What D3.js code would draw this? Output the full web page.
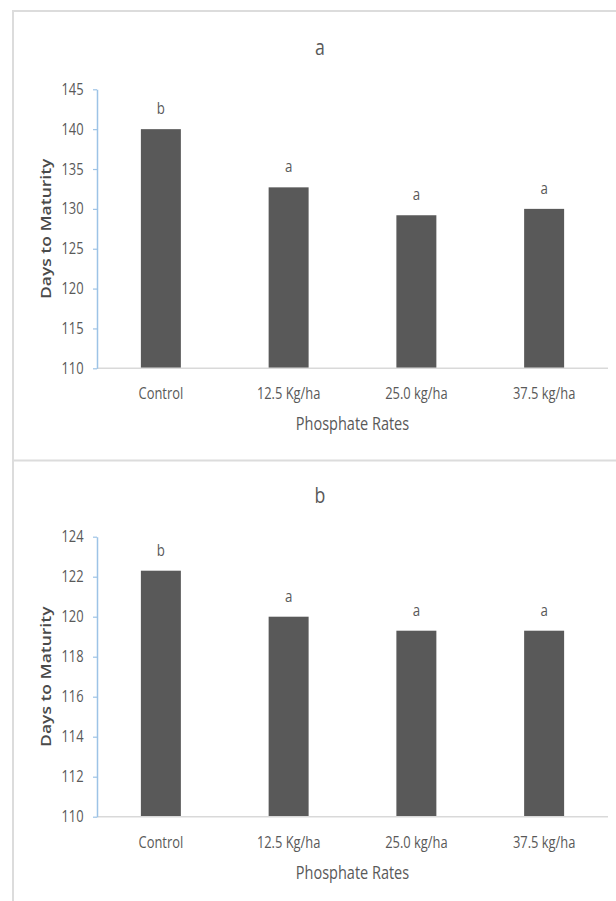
<!DOCTYPE html>
<html>
<head>
<meta charset="utf-8">
<script src="https://cdn.jsdelivr.net/npm/d3@7"></script>
<style>
  html, body { margin: 0; padding: 0; background: #fff; }
  svg { display: block; }
</style>
</head>
<body>
<div id="chart"></div>
<script>
// ---- data ----
const categories = ["Control", "12.5 Kg/ha", "25.0 kg/ha", "37.5 kg/ha"];
const panelTitles = ["a", "b"];
const valuesA = [140.0, 132.7, 129.2, 130.0];
const valuesB = [122.3, 120.0, 119.3, 119.3];
const lettersA = ["b", "a", "a", "a"];
const lettersB = ["b", "a", "a", "a"];
const ticksA = [110, 115, 120, 125, 130, 135, 140, 145];
const ticksB = [110, 112, 114, 116, 118, 120, 122, 124];
const xTitle = "Phosphate Rates";
const yTitle = "Days to Maturity";

// ---- layout ----
const W = 616, H = 901;
const SX = 0.806;            // horizontal squeeze of the source text
const FONT = "'Open Sans', 'Noto Sans', sans-serif";
const TXT = "#595959";
const BAR = "#595959";
const FRAME = "#dcdcdc";

const svg = d3.select("#chart").append("svg")
  .attr("width", W).attr("height", H)
  .style("background", "#fff");

// frame lines
svg.append("line").attr("x1", 13).attr("x2", W).attr("y1", 11).attr("y2", 11)
  .attr("stroke", FRAME).attr("stroke-width", 2);
svg.append("line").attr("x1", 13).attr("x2", 13).attr("y1", 10).attr("y2", H)
  .attr("stroke", FRAME).attr("stroke-width", 2);
svg.append("line").attr("x1", 13).attr("x2", W).attr("y1", 460.5).attr("y2", 460.5)
  .attr("stroke", FRAME).attr("stroke-width", 2);

function sText(g, x, y, str, size, opts = {}) {
  return g.append("text")
    .attr("transform", `translate(${x},${y}) scale(${SX},1)`)
    .attr("text-anchor", opts.anchor || "middle")
    .attr("font-family", FONT)
    .attr("font-size", size)
    .attr("font-weight", opts.weight || 400)
    .attr("fill", opts.fill || TXT)
    .text(str);
}

function drawPanel(cfg) {
  const g = svg.append("g");
  const x = d3.scaleBand().domain(categories).range([97, 608])
    .paddingInner(0.687).paddingOuter(0.3435);
  const y = d3.scaleLinear().domain(cfg.domain).range([cfg.yBottom, cfg.yTop]);

  // bars
  g.selectAll("rect.bar").data(cfg.values).join("rect")
    .attr("class", "bar")
    .attr("x", (d, i) => x(categories[i]))
    .attr("width", x.bandwidth())
    .attr("y", d => y(d))
    .attr("height", d => y(cfg.domain[0]) - y(d))
    .attr("fill", BAR);

  // x axis line
  g.append("line").attr("x1", 97).attr("x2", 608)
    .attr("y1", y(cfg.domain[0])).attr("y2", y(cfg.domain[0]))
    .attr("stroke", "#d9d9d9").attr("stroke-width", 1.5);

  // y axis
  const ya = g.append("g").attr("transform", "translate(97,0)")
    .call(d3.axisLeft(y).tickValues(cfg.ticks).tickSize(4).tickSizeOuter(0).tickPadding(9.5));
  ya.select(".domain").attr("stroke", "#9dc3e6").attr("stroke-width", 1.5);
  ya.selectAll(".tick line").attr("stroke", "#9dc3e6").attr("stroke-width", 1.2);
  ya.selectAll(".tick text").each(function () {
    const t = d3.select(this);
    const tx = +t.attr("x");
    t.attr("x", 0).attr("transform", `translate(${tx},0) scale(${SX},1)`)
      .attr("font-family", FONT).attr("font-size", 16).attr("fill", TXT);
  });

  // x tick labels
  categories.forEach((c, i) => {
    sText(g, x(c) + x.bandwidth() / 2, y(cfg.domain[0]) + 31, c, 16);
  });

  // significance letters
  cfg.values.forEach((v, i) => {
    sText(g, x(categories[i]) + x.bandwidth() / 2, y(v) - 15, cfg.letters[i], 16.5);
  });

  // chart title
  sText(g, 320, cfg.yTop - 34, cfg.title, 22);

  // x axis title
  sText(g, 352.5, y(cfg.domain[0]) + 62, xTitle, 18);

  // y axis title (rotated)
  g.append("text")
    .attr("transform", `translate(50.5,${(cfg.yTop + cfg.yBottom) / 2}) rotate(-90) scale(1,${SX})`)
    .attr("text-anchor", "middle")
    .attr("font-family", FONT)
    .attr("font-size", 17.5)
    .attr("font-weight", 600)
    .attr("fill", "#4a4a4a")
    .text(yTitle);
}

drawPanel({ title: panelTitles[0], values: valuesA, letters: lettersA, ticks: ticksA,
  domain: [110, 145], yTop: 89.3, yBottom: 368.3 });
drawPanel({ title: panelTitles[1], values: valuesB, letters: lettersB, ticks: ticksB,
  domain: [110, 124], yTop: 536.7, yBottom: 816.7 });
</script>
</body>
</html>
